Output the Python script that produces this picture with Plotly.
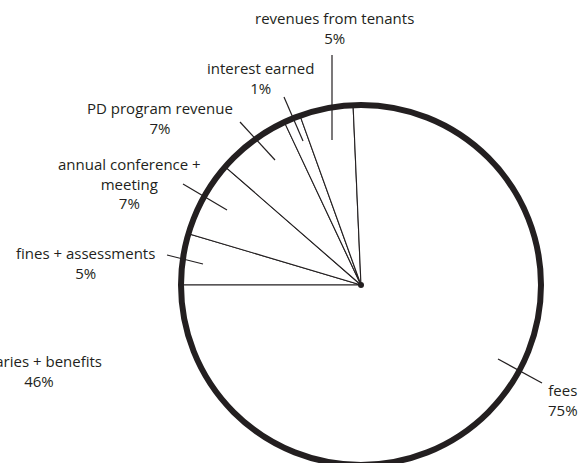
import plotly.graph_objects as go

# ---- data (clockwise from 9 o'clock) ----
categories = ["fines + assessments", "annual conference +<br>meeting", "PD program revenue",
              "interest earned", "revenues from tenants", "fees"]
values = [4.6, 6.8, 6.6, 1.5, 4.8, 75.7]
pct_labels = ["5%", "7%", "7%", "1%", "5%", "75%"]

# stray label from the neighbouring (expenses) chart, cut off at the left edge
extra_label = "salaries + benefits"
extra_pct = "46%"

INK = "#231f20"
W, H = 582, 470
L, R, T, B = 181, 41, 105, 5
PW, PH = W - L - R, H - T - B


def px(x):
    return (x - L) / PW


def py(y):
    return 1 - (y - T) / PH


# label placement (pixel centres) and leader lines (pixel endpoints)
label_pos = [(85, 263), (129, 183), (160, 118), (260, 78), (334, 28), (563, 400)]
leaders = [((167, 255), (203, 264)), ((183, 184), (227, 210)), ((240, 122), (275, 160)),
           ((284, 97), (303, 141)), ((332, 55), (332, 140)), ((498, 359), (542, 383))]
extra_pos = (39, 371)

fig = go.Figure()
fig.add_trace(go.Pie(
    labels=categories, values=values, sort=False, direction="clockwise", rotation=-90,
    textinfo="none", hoverinfo="label+percent",
    marker=dict(colors=["white"] * len(values), line=dict(color=INK, width=1.1)),
    showlegend=False,
))
# thick outer rim
fig.add_trace(go.Pie(
    values=[1], labels=["rim"], textinfo="none", hoverinfo="skip", sort=False,
    marker=dict(colors=["rgba(0,0,0,0)"], line=dict(color=INK, width=6)),
    showlegend=False,
))

font = dict(family="Open Sans, sans-serif", size=15, color=INK)
annotations = []
shapes = []
for cat, pct, (lx, ly), ((x0, y0), (x1, y1)) in zip(categories, pct_labels, label_pos, leaders):
    annotations.append(dict(text=f"{cat}<br>{pct}", x=px(lx), y=py(ly), xref="paper", yref="paper",
                            xanchor="center", yanchor="middle", showarrow=False, font=font, align="center"))
    shapes.append(dict(type="line", xref="paper", yref="paper", x0=px(x0), y0=py(y0), x1=px(x1), y1=py(y1),
                       line=dict(color=INK, width=1.2)))
annotations.append(dict(text=f"{extra_label}<br>{extra_pct}", x=px(extra_pos[0]), y=py(extra_pos[1]),
                        xref="paper", yref="paper", xanchor="center", yanchor="middle",
                        showarrow=False, font=font, align="center"))
# centre dot
shapes.append(dict(type="circle", xref="paper", yref="paper", xsizemode="pixel", ysizemode="pixel",
                   xanchor=0.5, yanchor=0.5, x0=-3, x1=3, y0=-3, y1=3,
                   fillcolor=INK, line=dict(width=0)))

fig.update_layout(
    width=W, height=H, margin=dict(l=L, r=R, t=T, b=B, autoexpand=False),
    paper_bgcolor="white", plot_bgcolor="white",
    annotations=annotations, shapes=shapes, showlegend=False,
)

fig.write_html("out.html", config={"displayModeBar": False},
               post_script="document.body.style.margin='0';document.body.style.overflow='hidden';")
